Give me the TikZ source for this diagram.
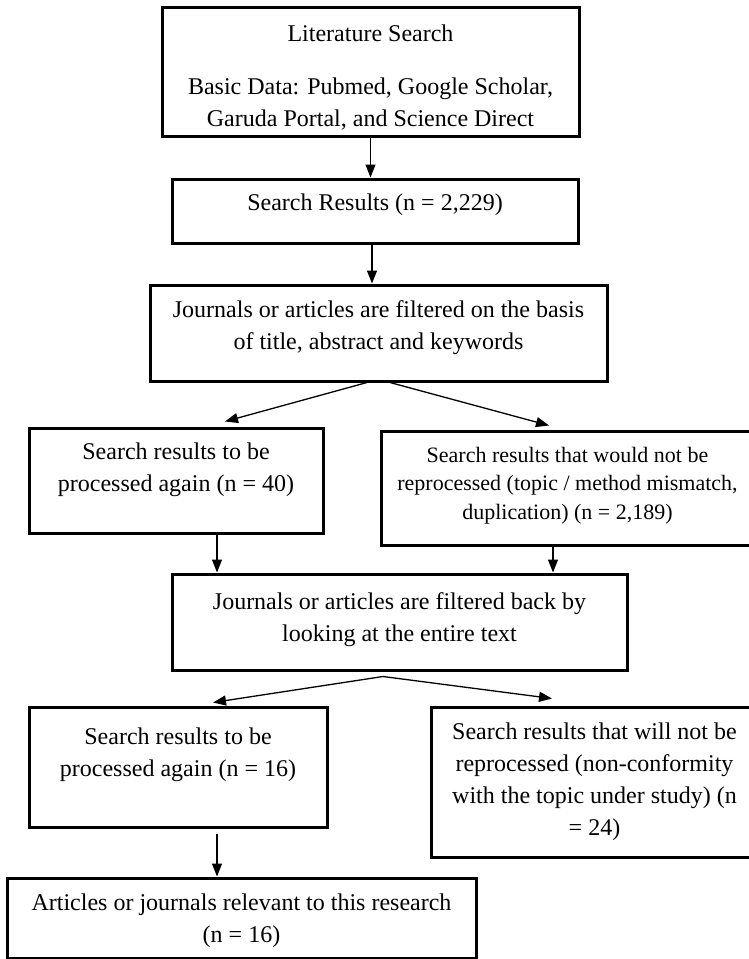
\documentclass[tikz,border=0pt]{standalone}
\usepackage{fontspec}
\setmainfont{Liberation Serif}
\usepackage{tikz}
\usetikzlibrary{arrows.meta}
\usetikzlibrary{calc}
\newcommand{\padlow}[1]{\rule[-#1]{0pt}{#1}}

\begin{document}
\begin{tikzpicture}[x=0.5pt, y=-0.5pt,
    box/.style={draw, line width=1.5pt, rectangle, align=center, inner sep=2pt, font=\fontsize{12}{16}\selectfont},
    flow/.style={line width=0.65pt, -{Triangle[length=6.5pt, width=5pt]}}]
  \useasboundingbox (0,0) rectangle (749,959);

  \node[box, minimum width=208.5pt, minimum height=64.5pt] (lit) at (370.5,71.5) {\rule{0pt}{14pt}Literature Search\\[10.5pt]Basic Data: Pubmed, Google Scholar,\\Garuda Portal, and Science Direct};
  \node[box, minimum width=203pt, minimum height=32pt] (res) at (375,211) {Search Results (n = 2,229)\padlow{9pt}};
  \node[box, minimum width=228.5pt, minimum height=48pt] (scr1) at (378.5,333) {Journals or articles are filtered on the basis\\of title, abstract and keywords\padlow{8pt}};
  \node[box, minimum width=147pt, minimum height=52.5pt] (keep1) at (176,480.5) {Search results to be\\processed again (n = 40)\padlow{13.5pt}};
  \node[box, minimum width=186.5pt, minimum height=57pt, font=\fontsize{11}{14.25}\selectfont] (drop1) at (567.5,488) {Search results that would not be\\reprocessed (topic / method mismatch,\\duplication) (n = 2,189)\padlow{5pt}};
  \node[box, minimum width=227.5pt, minimum height=48pt] (scr2) at (399.5,622) {Journals or articles are filtered back by\\looking at the entire text\padlow{5pt}};
  \node[box, minimum width=149pt, minimum height=60pt] (keep2) at (178,767) {Search results to be\\processed again (n = 16)\padlow{15pt}};
  \node[box, minimum width=163.5pt, minimum height=75pt] (drop2) at (594.5,782) {Search results that will not be\\reprocessed (non-conformity\\with the topic under study) (n\\= 24)};
  \node[box, minimum width=234.5pt, minimum height=40pt] (final) at (241.5,918) {\rule{0pt}{11pt}Articles or journals relevant to this research\\(n = 16)};

  \coordinate (res-out) at ($(res.south)+(-3,0)$);
  \coordinate (keep1-out) at ($(keep1.south)+(41,0)$);
  \coordinate (drop1-out) at ($(drop1.south)+(-14.5,0)$);
  \coordinate (keep2-out) at ($(keep2.south)+(39,5)$);
  \coordinate (split1) at ($(scr2.south)+(-16.5,5)$);

  \draw[flow] (lit.south) -- (lit.south |- res.north);
  \draw[flow] (res-out) -- (res-out |- scr1.north);
  \draw[flow] ($(scr1.south)+(-11.5,0)$) -- ($(keep1.north)+(49,-5)$);
  \draw[flow] ($(scr1.south)+(11.5,0)$) -- ($(drop1.north)+(-18.5,-4)$);
  \draw[flow] (keep1-out) -- (keep1-out |- scr2.north);
  \draw[flow] (drop1-out) -- (drop1-out |- scr2.north);
  \draw[flow] (split1) -- ($(keep2.north)+(35,-3)$);
  \draw[flow] (split1) -- ($(drop2.north)+(-42.5,-7)$);
  \draw[flow] (keep2-out) -- (keep2-out |- final.north);
\end{tikzpicture}
\end{document}
